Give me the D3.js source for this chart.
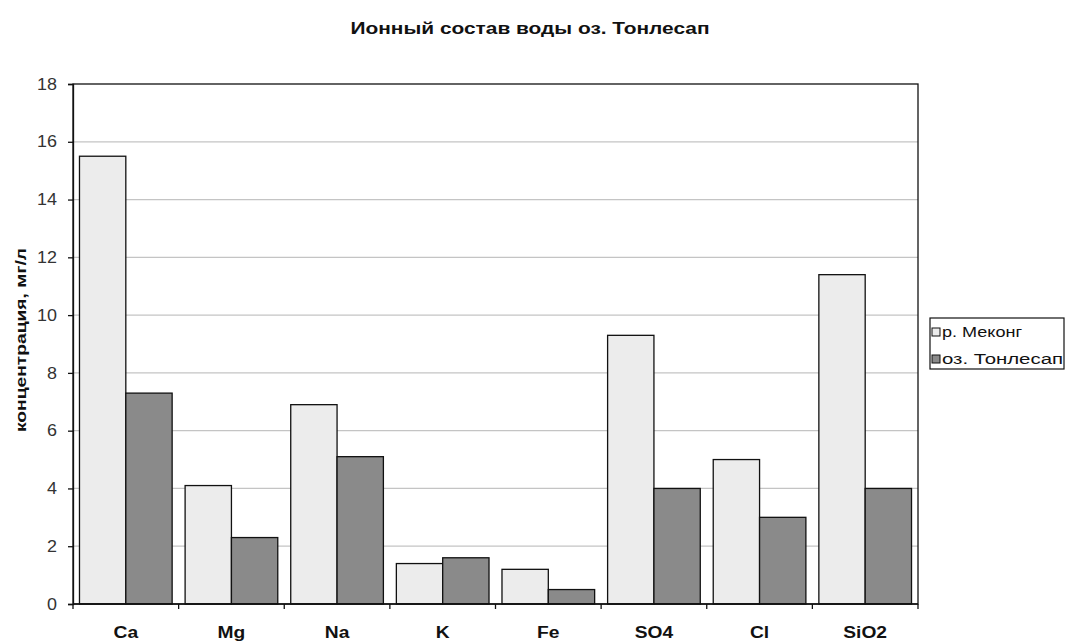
<!DOCTYPE html>
<html>
<head>
<meta charset="utf-8">
<script src="https://cdn.jsdelivr.net/npm/d3@7"></script>
<style>
  html, body { margin: 0; padding: 0; background: #fff; }
  svg { display: block; font-family: "Liberation Sans", Arial, sans-serif; }
</style>
</head>
<body>
<svg id="chart" width="1065" height="642"></svg>
<script>
// Ion composition, mg/l
const categories = ["Ca", "Mg", "Na", "K", "Fe", "SO4", "Cl", "SiO2"];
const seriesNames = ["р. Меконг", "оз. Тонлесап"];
const mekong = [15.5, 4.1, 6.9, 1.4, 1.2, 9.3, 5.0, 11.4];
const tonlesap = [7.3, 2.3, 5.1, 1.6, 0.5, 4.0, 3.0, 4.0];
const yTicks = [0, 2, 4, 6, 8, 10, 12, 14, 16, 18];
const colors = ["#ececec", "#8a8a8a"];

const svg = d3.select("#chart");
const plot = { left: 73, top: 84, right: 918, bottom: 604 };

const x = d3.scaleBand().domain(categories).range([plot.left, plot.right]).paddingInner(0).paddingOuter(0);
const inner = d3.scaleBand().domain(seriesNames).range([0, x.bandwidth()]).paddingInner(0).paddingOuter(0.14);
const y = d3.scaleLinear().domain([0, 18]).range([plot.bottom, plot.top]);

// widen a text element along its baseline by a factor
function widen(sel, factor) {
  sel.each(function () {
    const w = this.getComputedTextLength();
    d3.select(this).attr("textLength", w * factor).attr("lengthAdjust", "spacingAndGlyphs");
  });
}

// Title
svg.append("text")
  .attr("x", 530).attr("y", 34)
  .attr("text-anchor", "middle")
  .attr("font-size", 16).attr("font-weight", "bold")
  .attr("textLength", 359).attr("lengthAdjust", "spacingAndGlyphs")
  .attr("fill", "#111")
  .text("Ионный состав воды оз. Тонлесап");

// Gridlines
svg.append("g").selectAll("line")
  .data(yTicks.filter(d => d > 0 && d < 18))
  .join("line")
  .attr("x1", plot.left).attr("x2", plot.right)
  .attr("y1", d => y(d)).attr("y2", d => y(d))
  .attr("stroke", "#c4c4c4").attr("stroke-width", 1.2);

// Bars
const rows = categories.map((c, i) => ({ cat: c, vals: [mekong[i], tonlesap[i]] }));
const groups = svg.append("g").selectAll("g")
  .data(rows).join("g")
  .attr("transform", d => `translate(${x(d.cat)},0)`);
groups.selectAll("rect")
  .data(d => d.vals.map((v, j) => ({ name: seriesNames[j], v, j })))
  .join("rect")
  .attr("x", d => inner(d.name))
  .attr("y", d => y(d.v))
  .attr("width", inner.bandwidth())
  .attr("height", d => y(0) - y(d.v))
  .attr("fill", d => colors[d.j])
  .attr("stroke", "#111").attr("stroke-width", 1.3);

// Plot frame
svg.append("rect")
  .attr("x", plot.left).attr("y", plot.top)
  .attr("width", plot.right - plot.left).attr("height", plot.bottom - plot.top)
  .attr("fill", "none").attr("stroke", "#111").attr("stroke-width", 1.3);

// Y axis
const yAxis = svg.append("g")
  .attr("transform", `translate(${plot.left},0)`)
  .call(d3.axisLeft(y).tickValues(yTicks).tickSize(5).tickPadding(11).tickFormat(d3.format("d")));
yAxis.attr("font-size", null).attr("font-family", null);
yAxis.select(".domain").attr("stroke", "#111").attr("stroke-width", 1.3);
yAxis.selectAll(".tick line").attr("stroke", "#111").attr("stroke-width", 1.3);
yAxis.selectAll(".tick text")
  .attr("font-size", 16).attr("fill", "#333")
  .call(widen, 1.12);

// X axis: ticks sit at category boundaries
const xAxis = svg.append("g").attr("transform", `translate(0,${plot.bottom})`);
xAxis.append("line")
  .attr("x1", plot.left).attr("x2", plot.right)
  .attr("stroke", "#111").attr("stroke-width", 1.3);
xAxis.selectAll("line.tk")
  .data(d3.range(categories.length + 1))
  .join("line").attr("class", "tk")
  .attr("x1", i => plot.left + i * x.bandwidth())
  .attr("x2", i => plot.left + i * x.bandwidth())
  .attr("y1", 0).attr("y2", 5)
  .attr("stroke", "#111").attr("stroke-width", 1.3);
xAxis.selectAll("text")
  .data(categories).join("text")
  .attr("x", d => x(d) + x.bandwidth() / 2)
  .attr("y", 34)
  .attr("text-anchor", "middle")
  .attr("font-size", 16).attr("font-weight", "bold").attr("fill", "#111")
  .text(d => d)
  .call(widen, 1.2);

// Y axis title
svg.append("text")
  .attr("transform", `translate(26,${(plot.top + plot.bottom) / 2 - 4}) rotate(-90)`)
  .attr("text-anchor", "middle")
  .attr("font-size", 15).attr("font-weight", "bold").attr("fill", "#111")
  .attr("textLength", 184).attr("lengthAdjust", "spacingAndGlyphs")
  .text("концентрация, мг/л");

// Legend
const legendWidths = [80, 121];
const legend = svg.append("g").attr("transform", "translate(930,318)");
legend.append("rect")
  .attr("width", 134).attr("height", 51)
  .attr("fill", "#fff").attr("stroke", "#111").attr("stroke-width", 1.2);
const li = legend.selectAll("g.item")
  .data(seriesNames).join("g").attr("class", "item")
  .attr("transform", (d, i) => `translate(2,${19 + i * 27})`);
li.append("rect")
  .attr("x", 0).attr("y", -9).attr("width", 8).attr("height", 8)
  .attr("fill", (d, i) => colors[i]).attr("stroke", "#111").attr("stroke-width", 1);
li.append("text")
  .attr("x", 10).attr("y", 0)
  .attr("font-size", 14).attr("fill", "#111")
  .attr("textLength", (d, i) => legendWidths[i]).attr("lengthAdjust", "spacingAndGlyphs")
  .text(d => d);
</script>
</body>
</html>
